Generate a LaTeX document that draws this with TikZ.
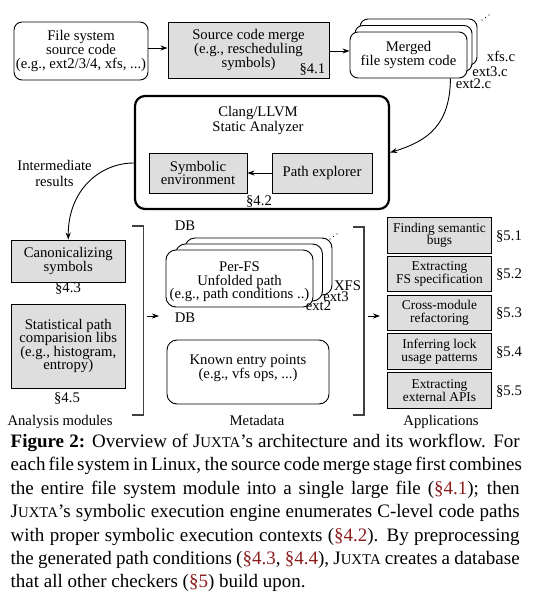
\documentclass[tikz,border=0pt]{standalone}
\usepackage{fontspec}
\setmainfont{Liberation Serif}
\usetikzlibrary{arrows.meta}
\definecolor{boxgray}{gray}{0.87}
\definecolor{refred}{RGB}{140,28,28}
\definecolor{brkcol}{gray}{0.25}
\newcommand{\diafont}{\fontsize{14.7}{13.6}\selectfont}
\newcommand{\appfont}{\fontsize{13.4}{12.8}\selectfont}
\newcommand{\capfont}{\fontsize{19}{23.4}\selectfont}
\newcommand{\jx}{J{\fontsize{14.8}{14.8}\selectfont UXTA}}
\newcommand{\rf}[1]{\textcolor{refred}{#1}}
\begin{document}
\begin{tikzpicture}[x=1pt,y=-1pt,
  lbl/.style={font=\diafont, align=center, inner sep=0pt},
  rbox/.style={draw, fill=white, rounded corners=8pt, line width=0.9pt, font=\diafont, align=center, inner sep=1pt},
  gbox/.style={draw, fill=boxgray, line width=0.9pt, font=\diafont, align=center, inner sep=1pt},
  abox/.style={draw, fill=boxgray, line width=0.9pt, font=\appfont, align=center, inner sep=1pt, minimum width=104.4, minimum height=35.5},
  arr/.style={-{Stealth[length=7pt,width=5pt]}, line width=0.9pt},
  brk/.style={draw=brkcol, line width=1.5pt},
  capline/.style={anchor=base west, inner sep=0pt, font=\capfont}]
\useasboundingbox (0,0) rectangle (537,599);

% top row
\node[rbox, minimum width=134, minimum height=58] (fs) at (81,51) {File system\\source code\\(e.g., ext2/3/4, xfs, ...)};
\node[gbox, minimum width=161, minimum height=56] (mrg) at (248.5,50) {Source code merge\\(e.g., rescheduling\\symbols)};
\node[lbl, anchor=south east] (s41) at ([xshift=-4pt,yshift=3pt]mrg.south east) {§4.1};

\node[rbox, minimum width=117, minimum height=46] (mf3) at (418.5,42) {};
\node[rbox, minimum width=117, minimum height=46] (mf2) at (413.5,48.5) {};
\node[rbox, minimum width=117, minimum height=46] (mf) at (408.5,55) {Merged\\file system code};
\fill (482,20) circle (0.7pt) (485.5,17.5) circle (0.7pt) (489,15) circle (0.7pt);
\node[lbl] (lxfs) at (501,56) {xfs.c};
\node[lbl] (lext3) at (490,71.5) {ext3.c};
\node[lbl] (lext2) at (473.5,83.5) {ext2.c};

\draw[arr] (fs.east |- 0,48) -- (mrg.west |- 0,48);
\draw[arr] (mrg.east |- 0,51) -- (mf.west |- 0,51);

% clang
\node[draw, rounded corners=10pt, line width=2.2pt, minimum width=254, minimum height=113] (clang) at (262,152.5) {};
\node[lbl, font=\fontsize{14.7}{15}\selectfont] (cl) at (258,120.5) {Clang/LLVM\\Static Analyzer};
\node[gbox, minimum width=98, minimum height=40] (sym) at (198,173) {Symbolic\\environment};
\node[gbox, minimum width=100, minimum height=40] (pe) at (322,173) {Path explorer};
\node[lbl] (s42) at (259,201) {§4.2};
\draw[arr] (pe) -- (sym);

\draw[arr] ([xshift=-17pt]mf.south east) .. controls (450,125) and (428,141) .. (clang.east);

\node[lbl, font=\fontsize{14.7}{16.5}\selectfont] (ir) at (54.5,173.5) {Intermediate\\results};

% analysis modules
\node[gbox, minimum width=113.5, minimum height=42] (can) at (68.25,261) {Canonicalizing\\symbols};
\node[lbl] (s43) at (68,288) {§4.3};
\node[gbox, minimum width=113.5, minimum height=84] (stat) at (68.25,346) {Statistical path\\comparision libs\\(e.g., histogram,\\entropy)};
\node[lbl] (s45) at (67,398) {§4.5};
\node[lbl, anchor=base] (am) at (60,425) {Analysis modules};

\draw[arr] ([yshift=-10.5pt]clang.west) .. controls (100,163) and (68,190) .. (can.north);

% bracket 1
\draw[brk] (132,226) -- (143.5,226) -- (143.5,415) -- (132,415);
\coordinate (a1s) at (147,316);
\coordinate (a1e) at (159,316);
\draw[arr] (a1s) -- (a1e);

% metadata
\node[lbl] (db1) at (185,226) {DB};
\node[rbox, rounded corners=10pt, minimum width=147, minimum height=57] (pf3) at (258.5,266.5) {};
\node[rbox, rounded corners=10pt, minimum width=147, minimum height=57] (pf2) at (249,272.5) {};
\node[rbox, rounded corners=10pt, minimum width=147, minimum height=57] (pf) at (239.5,278.5) {};
\node[lbl] (pft) at (239.5,282) {Per-FS\\Unfolded path\\(e.g., path conditions ..)};
\fill (330,239) circle (0.7pt) (333.5,236.5) circle (0.7pt) (337,234) circle (0.7pt);
\node[lbl] (lxfs2) at (347.5,285.5) {XFS};
\node[lbl] (lext32) at (336,296.5) {ext3};
\node[lbl] (lext22) at (318.5,306) {ext2};

\node[lbl] (db2) at (185,318) {DB};
\node[rbox, rounded corners=10pt, minimum width=162, minimum height=64] (ke) at (248,372) {};
\node[lbl] (ket) at (248,368) {Known entry points\\(e.g., vfs ops, ...)};
\node[lbl, anchor=base] (md) at (257,425) {Metadata};

% bracket 2
\draw[brk] (353,227) -- (364,227) -- (364,415) -- (353,415);
\coordinate (a2s) at (368,316);
\coordinate (a2e) at (380,316);
\draw[arr] (a2s) -- (a2e);

% applications
\node[abox] (ap1) at (439.5,235.25) {Finding semantic\\bugs};
\node[abox] (ap2) at (439.5,274.05) {Extracting\\FS specification};
\node[abox] (ap3) at (439.5,312.85) {Cross-module\\refactoring};
\node[abox] (ap4) at (439.5,351.65) {Inferring lock\\usage patterns};
\node[abox] (ap5) at (439.5,390.45) {Extracting\\external APIs};
\node[lbl] (s51) at (509,236) {§5.1};
\node[lbl] (s52) at (509,274.8) {§5.2};
\node[lbl] (s53) at (509,313.6) {§5.3};
\node[lbl] (s54) at (509,352.4) {§5.4};
\node[lbl] (s55) at (509,391.2) {§5.5};
\node[lbl, anchor=base] (apl) at (441,425) {Applications};

% caption
\node[capline] (c1) at (10.5,447.5) {\makebox[509pt][s]{\textbf{Figure 2:} Overview of \jx's architecture and its workflow. For}};
\node[capline] (c2) at (10.5,470.9) {\makebox[509pt][s]{each file system in Linux, the source code merge stage first combines}};
\node[capline] (c3) at (10.5,494.3) {\makebox[509pt][s]{the entire file system module into a single large file (\rf{§4.1}); then}};
\node[capline] (c4) at (10.5,517.7) {\makebox[509pt][s]{\jx's symbolic execution engine enumerates C-level code paths}};
\node[capline] (c5) at (10.5,541.1) {\makebox[509pt][s]{with proper symbolic execution contexts (\rf{§4.2}). By preprocessing}};
\node[capline] (c6) at (10.5,564.5) {\makebox[509pt][s]{the generated path conditions (\rf{§4.3}, \rf{§4.4}), \jx{} creates a database}};
\node[capline] (c7) at (10.5,587.9) {that all other checkers (\rf{§5}) build upon.};
\end{tikzpicture}
\end{document}
